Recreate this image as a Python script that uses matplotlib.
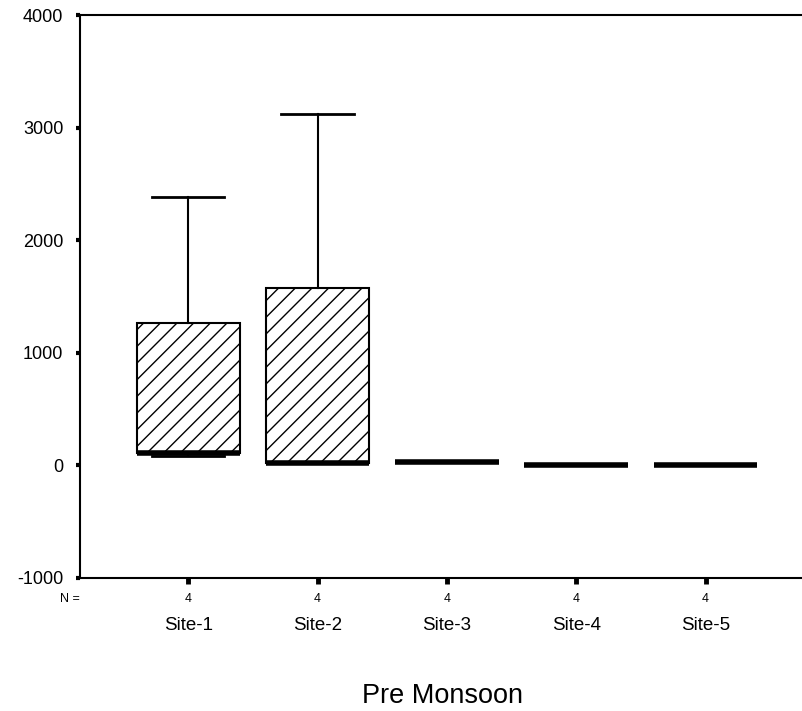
import matplotlib
matplotlib.use('Agg')
import matplotlib.pyplot as plt

plt.rcParams['font.family'] = ['Liberation Sans', 'DejaVu Sans']
plt.rcParams['hatch.linewidth'] = 1.0
plt.rcParams['axes.unicode_minus'] = False

# values
sites = ['Site-1', 'Site-2', 'Site-3', 'Site-4', 'Site-5']
n_obs = [4, 4, 4, 4, 4]
whislo = [85, 20, 30, 0, 0]
q1 = [110, 25, 30, 0, 0]
med = [110, 25, 30, 0, 0]
q3 = [1265, 1575, 30, 0, 0]
whishi = [2385, 3120, 30, 0, 0]

stats = []
for i in range(len(sites)):
    stats.append({'label': sites[i], 'whislo': whislo[i], 'q1': q1[i], 'med': med[i],
                  'q3': q3[i], 'whishi': whishi[i], 'fliers': []})

fig = plt.figure(figsize=(8.03, 7.11), dpi=100)
ax = fig.add_axes([80/803, 1-578/711, 1-80/803, (578-15)/711])

pos = range(1, len(sites) + 1)
b = ax.bxp(stats, positions=pos, widths=0.8, capwidths=0.56, patch_artist=True, showfliers=False,
           boxprops=dict(facecolor='white', edgecolor='black', linewidth=1.5, hatch='//'),
           medianprops=dict(color='black', linewidth=4, solid_capstyle='butt'),
           whiskerprops=dict(color='black', linewidth=1.5),
           capprops=dict(color='black', linewidth=2))

# flat boxes (no spread) only show the median bar
for i in range(len(sites)):
    if q3[i] == q1[i]:
        b['boxes'][i].set_visible(False)
        b['caps'][2*i].set_visible(False)
        b['caps'][2*i+1].set_visible(False)

ax.set_xlim(0.1625, 5.754)
ax.set_ylim(-1000, 4000)
ax.set_yticks([-1000, 0, 1000, 2000, 3000, 4000])
ax.set_xticks(list(pos))
ax.set_xticklabels([])

ax.spines['right'].set_visible(False)
for side in ['top', 'left', 'bottom']:
    ax.spines[side].set_linewidth(1.5)
ax.tick_params(axis='y', direction='out', length=3, width=3, labelsize=13, pad=9)
ax.tick_params(axis='x', direction='out', length=4, width=3.5)

tr = ax.get_xaxis_transform()
fig.text(70/803, 1-599/711, 'N =', fontsize=9, ha='center', va='center')
for i, s in enumerate(sites):
    ax.text(i + 1, -0.0373, str(n_obs[i]), transform=tr, fontsize=9, ha='center', va='center')
    ax.text(i + 1, -0.0835, s, transform=tr, fontsize=13.5, ha='center', va='center')

fig.text(443/803, 1-696/711, 'Pre Monsoon', fontsize=19.5, ha='center', va='center')

fig.savefig('out.png', dpi=100)
